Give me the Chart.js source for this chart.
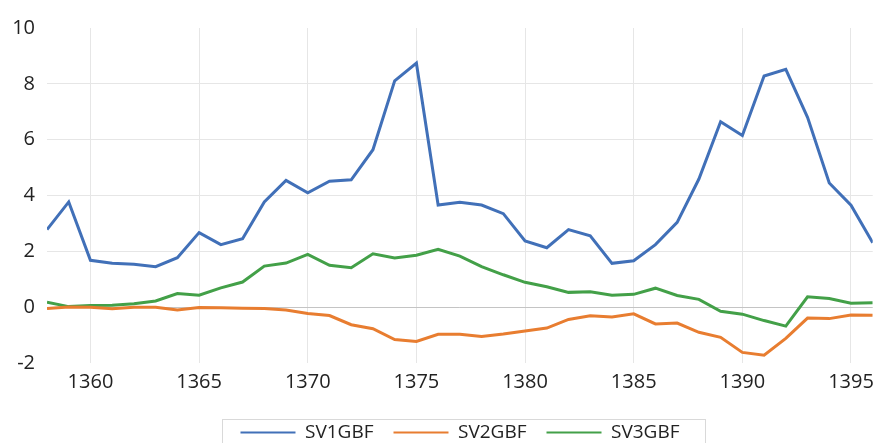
<!DOCTYPE html>
<html>
<head>
<meta charset="utf-8">
<script src="https://cdn.jsdelivr.net/npm/chart.js@4.4.1/dist/chart.umd.min.js"></script>
<style>
  html, body { margin: 0; padding: 0; background: #fff; }
  #wrap { width: 881px; height: 443px; }
</style>
</head>
<body>
<div id="wrap"><canvas id="myChart"></canvas></div>
<script>
let years = [1358, 1359, 1360, 1361, 1362, 1363, 1364, 1365, 1366, 1367, 1368, 1369, 1370,
             1371, 1372, 1373, 1374, 1375, 1376, 1377, 1378, 1379, 1380, 1381, 1382, 1383,
             1384, 1385, 1386, 1387, 1388, 1389, 1390, 1391, 1392, 1393, 1394, 1395, 1396];

let sv1 = [2.78, 3.77, 1.68, 1.57, 1.54, 1.45, 1.77, 2.67, 2.24, 2.45, 3.77, 4.54, 4.10,
           4.51, 4.56, 5.64, 8.11, 8.74, 3.66, 3.76, 3.66, 3.35, 2.37, 2.13, 2.78, 2.56,
           1.57, 1.66, 2.24, 3.04, 4.59, 6.64, 6.15, 8.28, 8.52, 6.80, 4.45, 3.65, 2.31];

let sv2 = [-0.05, 0.01, 0.00, -0.06, 0.00, 0.00, -0.10, -0.01, -0.02, -0.04, -0.05, -0.10, -0.23,
           -0.30, -0.63, -0.77, -1.16, -1.23, -0.97, -0.97, -1.05, -0.96, -0.85, -0.75, -0.44, -0.31,
           -0.35, -0.24, -0.60, -0.57, -0.90, -1.08, -1.62, -1.72, -1.12, -0.39, -0.41, -0.28, -0.29];

let sv3 = [0.18, 0.02, 0.06, 0.07, 0.12, 0.22, 0.49, 0.43, 0.69, 0.90, 1.47, 1.58, 1.89,
           1.50, 1.41, 1.91, 1.76, 1.86, 2.07, 1.83, 1.45, 1.16, 0.89, 0.73, 0.53, 0.55,
           0.43, 0.46, 0.68, 0.42, 0.28, -0.15, -0.25, -0.48, -0.68, 0.37, 0.31, 0.14, 0.16];

let xTicks = [1360, 1365, 1370, 1375, 1380, 1385, 1390, 1395];
let yTicks = [-2, 0, 2, 4, 6, 8, 10];

function points(values) {
    return values.map((v, i) => ({ x: years[i], y: v }));
}

// legend sits a bit right of centre in the original, with a thin frame round it
let legendShift = 22;
let legendFrame = {
    id: 'legendFrame',
    afterLayout(chart) {
        let lg = chart.legend;
        lg.left += legendShift;
        lg.right += legendShift;
    },
    afterDraw(chart) {
        let lg = chart.legend;
        if (!lg || !lg.lineWidths) return;
        let w = lg.lineWidths[0] + 24;
        let cx = (lg.left + lg.right) / 2 + 4;
        let top = lg.top + lg.options.labels.padding - 4;
        let ctx = chart.ctx;
        ctx.save();
        ctx.strokeStyle = '#d9d9d9';
        ctx.lineWidth = 1;
        ctx.strokeRect(Math.round(cx - w / 2) + 0.5, Math.round(top) + 0.5, Math.round(w), 60);
        ctx.restore();
    }
};

let ctx = document.getElementById('myChart').getContext('2d');
let chart = new Chart(ctx, {
    type: 'line',
    data: {
        datasets: [
            {
                label: 'SV1GBF',
                data: points(sv1),
                borderColor: '#4170B8',
                backgroundColor: '#4170B8',
                borderWidth: 3,
            },
            {
                label: 'SV2GBF',
                data: points(sv2),
                borderColor: '#E87D30',
                backgroundColor: '#E87D30',
                borderWidth: 3,
            },
            {
                label: 'SV3GBF',
                data: points(sv3),
                borderColor: '#43A048',
                backgroundColor: '#43A048',
                borderWidth: 3,
            }
        ]
    },
    options: {
        responsive: true,
        maintainAspectRatio: false,
        animation: false,
        layout: { padding: { top: 28, right: 5, left: 0, bottom: -9 } },
        elements: {
            point: { radius: 0 },
            line: { tension: 0 }
        },
        scales: {
            x: {
                type: 'linear',
                min: years[0],
                max: years[years.length - 1],
                afterBuildTicks: (scale) => {
                    scale.ticks = xTicks.map(v => ({ value: v }));
                },
                afterFit: (scale) => { scale.height = 40; },
                ticks: {
                    autoSkip: false,
                    maxRotation: 0,
                    padding: 7,
                    color: '#222',
                    font: { family: 'Open Sans', size: 20 },
                    callback: (v) => String(v)
                },
                grid: { color: '#e6e6e6', drawTicks: false },
                border: { display: false }
            },
            y: {
                min: yTicks[0],
                max: yTicks[yTicks.length - 1],
                afterBuildTicks: (scale) => {
                    scale.ticks = yTicks.map(v => ({ value: v }));
                },
                afterFit: (scale) => { scale.width = 47; },
                ticks: {
                    padding: 12,
                    color: '#222',
                    font: { family: 'Open Sans', size: 20 }
                },
                grid: {
                    drawTicks: false,
                    color: (c) => {
                        if (c.tick.value === 0) return '#c4c4c4';
                        if (c.tick.value === 10 || c.tick.value === -2) return 'rgba(0,0,0,0)';
                        return '#e6e6e6';
                    }
                },
                border: { display: false }
            }
        },
        plugins: {
            legend: {
                position: 'bottom',
                labels: {
                    usePointStyle: true,
                    pointStyle: 'line',
                    pointStyleWidth: 55,
                    boxHeight: 18,
                    padding: 20,
                    color: '#222',
                    font: { family: 'Open Sans', size: 19 },
                    generateLabels: (chart) => {
                        let items = Chart.defaults.plugins.legend.labels.generateLabels(chart);
                        items.forEach(it => { it.lineWidth = 2; it.pointStyle = 'line'; });
                        return items;
                    }
                }
            },
            tooltip: { enabled: false }
        }
    },
    plugins: [legendFrame]
});
</script>
</body>
</html>
